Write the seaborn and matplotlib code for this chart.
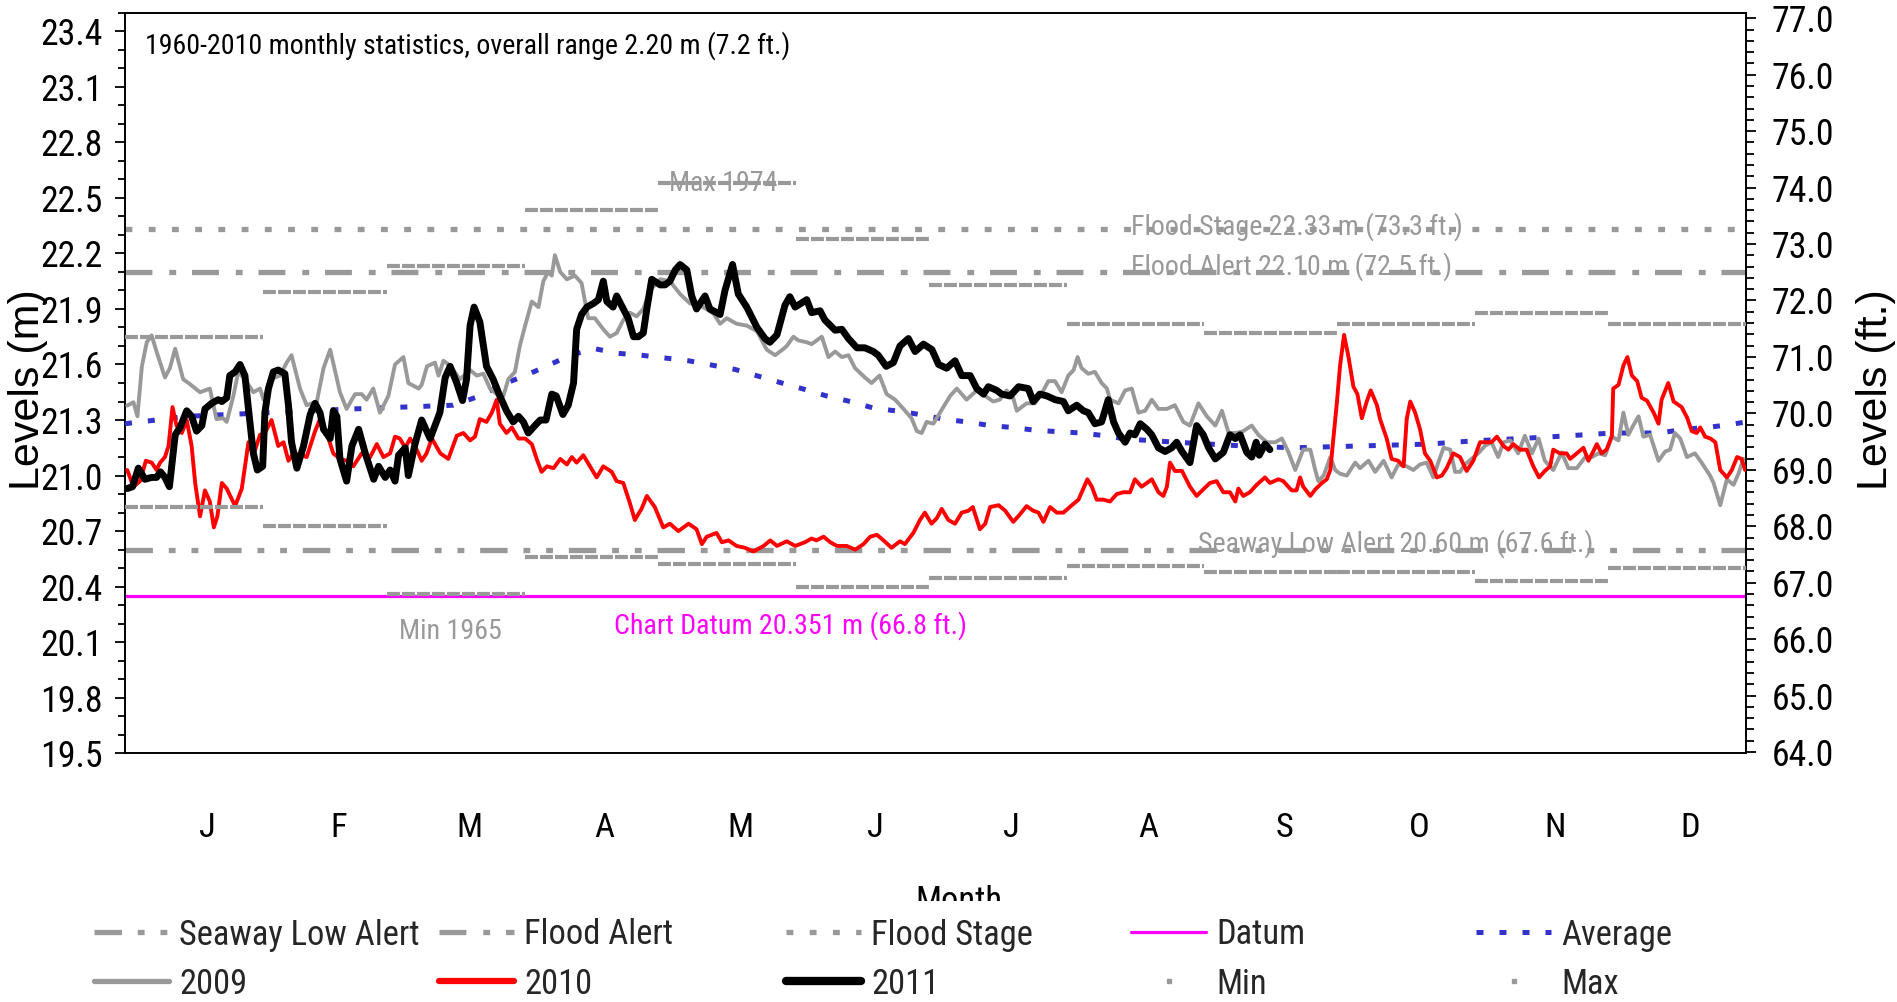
import numpy as np
import matplotlib
matplotlib.use("Agg")
import matplotlib.pyplot as plt
import seaborn as sns
from matplotlib.ticker import MultipleLocator, FormatStrFormatter
from matplotlib.lines import Line2D
from matplotlib.patches import Rectangle
from matplotlib.font_manager import FontProperties
import matplotlib.font_manager as fm

# ---------------- data ----------------
month_letters = ["J", "F", "M", "A", "M", "J", "J", "A", "S", "O", "N", "D"]
month_days = [31, 28, 31, 30, 31, 30, 31, 31, 30, 31, 30, 31]

monthly_max = [21.75, 21.99, 22.13, 22.435, 22.58, 22.28, 22.03, 21.82, 21.77, 21.82, 21.88, 21.82]
monthly_min = [20.83, 20.73, 20.36, 20.56, 20.52, 20.40, 20.445, 20.51, 20.48, 20.48, 20.43, 20.50]

flood_stage = 22.33
flood_alert = 22.10
seaway_low_alert = 20.60
chart_datum = 20.351

avg_day = [0, 13.9, 32.7, 51.4, 73.9, 79.9, 84.8, 90.1, 95.3, 100.2, 105.8, 111.1, 116.3, 121.6,
           126.9, 132.5, 137.4, 142.6, 147.9, 153.1, 158.0, 163.3, 168.5, 173.4, 179.0, 184.3,
           189.5, 194.8, 199.7, 204.9, 210.2, 215.4, 220.7, 225.6, 236.8, 251.8, 263.1, 278.1,
           293.5, 304.0, 314.1, 325.0, 335.1, 345.7, 350.9, 356.2, 361.4, 365]
avg_level = [21.28, 21.32, 21.34, 21.36, 21.38, 21.43, 21.49, 21.54, 21.595, 21.65, 21.685, 21.66,
             21.65, 21.635, 21.62, 21.595, 21.573, 21.537, 21.50, 21.465, 21.43, 21.40, 21.365,
             21.35, 21.33, 21.305, 21.29, 21.27, 21.26, 21.245, 21.237, 21.23, 21.215, 21.197,
             21.18, 21.16, 21.15, 21.16, 21.17, 21.188, 21.20, 21.215, 21.23, 21.23, 21.25,
             21.26, 21.275, 21.29]

y2009_day = [0.5, 1.9, 2.8, 3.8, 4.9, 6.0, 7.1, 9.0, 10.1, 11.3, 13.1, 14.3, 16.9, 19.1, 20.6, 22.1,
             22.9, 24.4, 25.5, 27.0, 28.9, 30.4, 31.2, 32.7, 34.9, 36.4, 37.5, 39.4, 40.9, 43.2,
             44.7, 46.2, 48.4, 49.9, 51.8, 53.3, 54.4, 55.9, 57.4, 59.3, 60.8, 62.7, 63.8, 66.1,
             66.8, 68.0, 69.8, 70.6, 71.7, 73.2, 75.4, 77.7, 79.2, 80.7, 82.2, 83.7, 85.2, 86.3,
             87.8, 88.9, 90.1, 91.6, 93.1, 94.2, 95.3, 96.1, 96.8, 98.0, 99.5, 101.3, 102.8, 104.3,
             105.8, 107.7, 109.2, 110.7, 112.2, 113.7, 115.2, 116.7, 118.2, 120.5, 122.7, 125.0,
             127.2, 129.5, 132.5, 134.0, 135.5, 137.7, 140.0, 142.3, 144.5, 146.4, 148.3, 149.0,
             150.5, 151.6, 153.5, 154.6, 156.9, 158.4, 159.9, 161.4, 162.9, 164.4, 166.6, 168.1,
             169.9, 171.5, 173.4, 175.3, 177.1, 178.3, 179.4, 180.5, 182.0, 183.5, 185.8, 187.3,
             189.5, 191.8, 193.7, 195.5, 197.0, 198.5, 200.0, 200.8, 203.0, 204.9, 206.8, 207.9,
             209.4, 210.9, 212.4, 213.6, 214.5, 215.4, 216.9, 218.4, 219.9, 221.1, 221.8, 223.7,
             225.2, 226.7, 228.2, 229.7, 231.2, 232.7, 234.6, 236.4, 238.3, 239.8, 241.7, 243.6,
             245.5, 247.0, 248.5, 250.3, 251.8, 253.7, 255.2, 257.1, 259.0, 260.5, 262.0, 263.5,
             265.3, 266.9, 268.0, 268.7, 269.9, 271.4, 272.5, 273.6, 275.1, 277.0, 278.1, 280.0,
             281.5, 283.4, 285.2, 286.7, 288.6, 290.1, 291.6, 293.1, 294.6, 295.7, 296.9, 298.4,
             299.5, 300.6, 301.7, 303.2, 304.7, 306.2, 307.7, 309.2, 310.4, 311.9, 313.7, 315.2,
             316.8, 318.3, 319.7, 321.6, 323.5, 325.0, 326.9, 328.8, 330.3, 331.8, 333.3, 334.8,
             336.3, 337.4, 338.5, 339.6, 340.8, 341.9, 343.4, 345.3, 346.8, 347.9, 349.0, 350.2,
             351.7, 353.5, 355.0, 356.9, 357.7, 359.2, 360.7, 362.2, 363.3, 364.4]
y2009_level = [21.378, 21.396, 21.32, 21.59, 21.72, 21.757, 21.67, 21.53, 21.58, 21.685, 21.52, 21.50,
               21.45, 21.47, 21.305, 21.31, 21.29, 21.43, 21.56, 21.52, 21.45, 21.47, 21.41, 21.52,
               21.54, 21.61, 21.65, 21.47, 21.38, 21.40, 21.58, 21.68, 21.45, 21.36, 21.44, 21.44,
               21.41, 21.47, 21.34, 21.43, 21.60, 21.64, 21.50, 21.47, 21.49, 21.59, 21.61, 21.54,
               21.62, 21.595, 21.52, 21.57, 21.54, 21.55, 21.47, 21.44, 21.43, 21.52, 21.56, 21.70,
               21.81, 21.94, 21.91, 22.05, 22.10, 22.08, 22.19, 22.10, 22.06, 22.08, 22.04, 21.85,
               21.85, 21.79, 21.75, 21.77, 21.84, 21.88, 21.86, 21.90, 22.00, 22.06, 22.05, 21.98,
               21.93, 21.92, 21.875, 21.82, 21.85, 21.82, 21.81, 21.78, 21.68, 21.65, 21.685, 21.70,
               21.75, 21.73, 21.72, 21.71, 21.75, 21.64, 21.67, 21.64, 21.65, 21.58, 21.53, 21.50,
               21.54, 21.44, 21.41, 21.36, 21.31, 21.24, 21.23, 21.29, 21.28, 21.34, 21.43, 21.47,
               21.41, 21.46, 21.43, 21.40, 21.41, 21.46, 21.42, 21.35, 21.39, 21.39, 21.46, 21.51,
               21.51, 21.45, 21.54, 21.57, 21.64, 21.58, 21.55, 21.56, 21.50, 21.47, 21.41, 21.39,
               21.46, 21.47, 21.34, 21.35, 21.41, 21.36, 21.36, 21.38, 21.29, 21.27, 21.39, 21.32,
               21.27, 21.35, 21.23, 21.23, 21.24, 21.27, 21.22, 21.18, 21.18, 21.20, 21.125, 21.03,
               21.14, 21.14, 21.03, 20.97, 21.00, 21.10, 21.03, 21.01, 21.00, 21.07, 21.04, 21.08,
               21.02, 21.08, 20.99, 21.06, 21.05, 21.03, 21.06, 21.07, 20.99, 21.07, 21.15, 21.14,
               21.02, 21.02, 21.06, 21.09, 21.12, 21.16, 21.18, 21.10, 21.18, 21.19, 21.12, 21.215,
               21.12, 21.20, 21.08, 21.03, 21.125, 21.04, 21.04, 21.10, 21.10, 21.12, 21.11, 21.21,
               21.19, 21.34, 21.22, 21.27, 21.32, 21.21, 21.22, 21.08, 21.13, 21.14, 21.23, 21.20,
               21.10, 21.12, 21.07, 21.00, 20.96, 20.84, 20.98, 20.95, 21.01, 21.09]

y2010_day = [0.5, 1.9, 3.4, 4.7, 6.0, 7.1, 7.9, 9.0, 9.8, 10.7, 11.6, 12.8, 13.9, 15.0, 15.8, 16.9,
             18.0, 19.1, 20.0, 20.8, 21.8, 22.9, 24.8, 26.3, 27.8, 28.9, 30.4, 31.5, 33.0, 34.5,
             35.7, 36.8, 37.9, 39.8, 40.9, 42.8, 43.9, 45.4, 46.9, 48.4, 49.9, 51.4, 53.3, 55.2,
             56.7, 58.2, 59.7, 60.8, 61.9, 63.1, 64.2, 65.7, 66.8, 67.9, 69.1, 71.0, 72.8, 74.7,
             76.2, 77.7, 78.8, 79.9, 81.4, 82.6, 83.7, 84.4, 85.9, 87.1, 88.6, 90.1, 91.6, 92.7,
             93.8, 95.0, 96.5, 98.0, 99.5, 100.6, 101.7, 103.2, 104.7, 106.2, 107.7, 109.6, 110.7,
             112.2, 113.7, 114.8, 116.3, 117.5, 119.3, 121.2, 122.7, 124.6, 126.9, 128.7, 129.9,
             131.0, 133.2, 134.4, 135.9, 137.7, 139.6, 141.5, 143.8, 145.3, 146.8, 149.0, 150.9,
             153.1, 154.6, 155.7, 157.3, 158.8, 160.3, 162.5, 164.4, 166.3, 167.8, 169.3, 170.8,
             172.6, 174.5, 175.6, 177.5, 179.0, 180.1, 181.6, 182.8, 183.9, 185.4, 186.9, 188.4,
             189.9, 190.9, 192.5, 193.7, 194.8, 196.7, 198.2, 200.0, 201.5, 203.0, 204.5, 205.7,
             206.8, 208.3, 209.8, 211.3, 213.2, 214.7, 215.8, 216.7, 217.7, 218.8, 220.3, 221.8,
             223.3, 224.8, 226.3, 227.4, 228.9, 230.1, 231.2, 232.7, 233.8, 234.6, 235.3, 236.4,
             238.0, 239.8, 241.3, 243.2, 244.3, 245.8, 247.3, 248.8, 250.0, 250.7, 251.8, 253.3,
             254.8, 256.7, 257.8, 259.7, 260.8, 262.7, 263.8, 264.6, 265.3, 266.9, 268.0, 269.5,
             270.6, 271.4, 272.1, 272.9, 273.6, 274.5, 275.5, 276.6, 277.5, 278.5, 279.6, 280.5,
             281.9, 282.6, 284.1, 285.2, 286.7, 287.9, 288.6, 289.4, 290.5, 291.6, 292.7, 293.9,
             295.4, 296.5, 297.6, 299.1, 300.6, 302.1, 303.6, 305.1, 306.6, 307.7, 308.9, 310.4,
             311.5, 312.6, 314.1, 315.6, 317.1, 318.4, 319.7, 320.9, 321.6, 323.1, 324.6, 325.4,
             326.9, 328.4, 329.5, 330.6, 331.4, 332.5, 333.6, 334.8, 335.1, 336.3, 337.4, 338.3,
             339.3, 340.5, 341.5, 342.7, 344.2, 345.3, 346.0, 347.5, 348.7, 350.5, 351.7, 352.8,
             353.9, 354.7, 355.8, 357.0, 358.1, 359.2, 360.7, 361.8, 363.0, 364.0, 364.8]
y2010_level = [21.03, 20.94, 20.97, 21.08, 21.07, 21.03, 21.07, 21.10, 21.16, 21.37, 21.27, 21.23,
               21.30, 21.16, 20.96, 20.78, 20.92, 20.86, 20.72, 20.78, 20.96, 20.93, 20.835, 20.93,
               21.18, 21.11, 21.22, 21.23, 21.30, 21.16, 21.18, 21.08, 21.12, 21.11, 21.10, 21.24,
               21.305, 21.23, 21.12, 21.09, 21.08, 21.05, 21.12, 21.10, 21.17, 21.10, 21.12, 21.21,
               21.20, 21.15, 21.20, 21.14, 21.08, 21.12, 21.20, 21.12, 21.09, 21.215, 21.23, 21.19,
               21.21, 21.305, 21.29, 21.34, 21.41, 21.28, 21.23, 21.26, 21.20, 21.20, 21.17, 21.09,
               21.02, 21.05, 21.04, 21.09, 21.06, 21.10, 21.07, 21.11, 21.05, 20.99, 21.05, 21.02,
               20.97, 20.96, 20.85, 20.76, 20.82, 20.89, 20.83, 20.72, 20.74, 20.70, 20.74, 20.71,
               20.63, 20.67, 20.69, 20.64, 20.65, 20.62, 20.61, 20.59, 20.62, 20.65, 20.62, 20.645,
               20.62, 20.64, 20.66, 20.65, 20.67, 20.64, 20.62, 20.62, 20.60, 20.63, 20.67, 20.68,
               20.65, 20.61, 20.645, 20.63, 20.69, 20.76, 20.80, 20.74, 20.77, 20.82, 20.76, 20.74,
               20.80, 20.81, 20.83, 20.71, 20.74, 20.83, 20.84, 20.81, 20.75, 20.79, 20.835, 20.81,
               20.80, 20.75, 20.83, 20.80, 20.80, 20.84, 20.87, 20.93, 20.98, 20.94, 20.87, 20.87,
               20.86, 20.90, 20.91, 20.91, 20.98, 20.94, 20.96, 20.98, 20.91, 20.89, 20.94, 21.07,
               21.025, 21.025, 20.94, 20.89, 20.935, 20.96, 20.97, 20.91, 20.91, 20.86, 20.93, 20.89,
               20.91, 20.95, 20.99, 20.96, 20.98, 20.97, 20.92, 20.92, 20.99, 20.94, 20.89, 20.925,
               20.96, 20.98, 21.03, 21.20, 21.40, 21.595, 21.76, 21.64, 21.48, 21.44, 21.31, 21.40,
               21.46, 21.38, 21.305, 21.20, 21.09, 21.08, 21.05, 21.305, 21.40, 21.34, 21.25, 21.12,
               21.08, 20.99, 21.00, 21.04, 21.12, 21.10, 21.025, 21.08, 21.18, 21.18, 21.18, 21.21,
               21.16, 21.14, 21.17, 21.14, 21.14, 21.05, 20.99, 21.025, 21.05, 21.14, 21.12, 21.12,
               21.09, 21.12, 21.15, 21.08, 21.13, 21.17, 21.12, 21.14, 21.215, 21.47, 21.49, 21.595,
               21.64, 21.54, 21.51, 21.42, 21.405, 21.34, 21.28, 21.41, 21.50, 21.40, 21.37, 21.315,
               21.24, 21.23, 21.26, 21.21, 21.20, 21.18, 21.03, 20.99, 21.03, 21.10, 21.09, 21.03]

y2011_day = [0.5, 1.7, 3.0, 4.5, 6.0, 7.1, 8.0, 9.0, 10.0, 11.3, 12.4, 13.9, 15.0, 16.1, 17.3, 18.0,
             19.5, 21.0, 21.8, 22.9, 23.6, 24.8, 25.9, 27.0, 27.8, 28.9, 29.8, 31.0, 31.5, 32.3,
             33.4, 34.5, 36.0, 36.8, 37.5, 38.7, 40.2, 41.7, 42.8, 43.9, 44.7, 46.2, 46.9, 47.7,
             48.4, 49.9, 51.1, 52.6, 54.1, 56.0, 57.1, 58.6, 59.7, 60.8, 61.6, 63.1, 63.8, 65.3,
             66.8, 68.7, 70.9, 72.1, 73.2, 74.7, 76.0, 76.9, 77.7, 78.6, 79.9, 81.4, 82.9, 84.4,
             85.9, 87.4, 88.6, 89.7, 90.8, 92.3, 93.5, 94.8, 96.1, 97.1, 98.6, 99.8, 101.0, 101.7,
             102.8, 104.0, 105.5, 106.6, 107.7, 108.5, 109.9, 110.7, 112.2, 113.3, 114.5, 115.6,
             116.7, 117.5, 118.6, 120.5, 121.6, 122.7, 123.9, 125.0, 126.5, 127.6, 128.7, 130.6,
             131.7, 134.0, 135.1, 136.8, 138.1, 140.0, 142.3, 144.1, 145.2, 146.8, 148.6, 149.7,
             150.9, 153.5, 154.6, 156.5, 157.6, 159.9, 161.4, 162.9, 164.8, 166.6, 168.5, 169.6,
             171.4, 173.0, 174.5, 176.4, 177.9, 179.8, 181.7, 183.2, 185.0, 186.9, 188.4, 190.3,
             191.8, 193.3, 194.4, 196.3, 197.4, 199.3, 201.2, 203.4, 204.5, 206.0, 207.6, 209.4,
             211.3, 212.4, 214.3, 215.8, 216.9, 218.4, 219.9, 221.4, 222.6, 223.7, 225.2, 226.3,
             227.4, 228.6, 230.1, 231.2, 232.7, 234.2, 235.7, 236.8, 238.0, 239.8, 241.3, 242.8,
             244.0, 245.5, 247.3, 248.8, 250.0, 251.1, 252.6, 253.7, 254.7, 255.4, 256.7, 257.8]
y2011_level = [20.93, 20.94, 21.04, 20.98, 20.99, 20.99, 21.02, 20.99, 20.94, 21.22, 21.26, 21.35,
               21.32, 21.24, 21.27, 21.36, 21.39, 21.41, 21.40, 21.42, 21.54, 21.56, 21.60, 21.54,
               21.36, 21.12, 21.03, 21.05, 21.34, 21.47, 21.56, 21.57, 21.55, 21.38, 21.18, 21.04,
               21.16, 21.33, 21.39, 21.34, 21.25, 21.20, 21.35, 21.32, 21.09, 20.97, 21.16, 21.25,
               21.12, 20.98, 21.05, 20.99, 21.03, 20.97, 21.11, 21.15, 21.00, 21.17, 21.30, 21.20,
               21.34, 21.53, 21.59, 21.50, 21.405, 21.52, 21.81, 21.91, 21.83, 21.59, 21.52, 21.43,
               21.35, 21.29, 21.32, 21.29, 21.23, 21.27, 21.30, 21.30, 21.44, 21.43, 21.33, 21.38,
               21.50, 21.79, 21.87, 21.91, 21.93, 21.95, 22.05, 21.94, 21.91, 21.97, 21.90, 21.85,
               21.75, 21.75, 21.77, 21.90, 22.06, 22.03, 22.03, 22.05, 22.11, 22.14, 22.11, 21.97,
               21.90, 21.97, 21.90, 21.87, 22.00, 22.14, 21.98, 21.91, 21.80, 21.74, 21.72, 21.76,
               21.92, 21.966, 21.91, 21.95, 21.88, 21.89, 21.84, 21.785, 21.79, 21.74, 21.69, 21.69,
               21.67, 21.65, 21.59, 21.61, 21.70, 21.74, 21.67, 21.71, 21.68, 21.60, 21.58, 21.62,
               21.54, 21.54, 21.47, 21.44, 21.48, 21.46, 21.44, 21.43, 21.48, 21.47, 21.40, 21.44,
               21.43, 21.41, 21.40, 21.35, 21.38, 21.35, 21.34, 21.28, 21.29, 21.41, 21.29, 21.23,
               21.18, 21.23, 21.22, 21.28, 21.25, 21.22, 21.15, 21.13, 21.15, 21.18, 21.13, 21.07,
               21.27, 21.22, 21.15, 21.09, 21.125, 21.22, 21.20, 21.22, 21.125, 21.10, 21.18, 21.11,
               21.17, 21.14]

title_text = "1960-2010 monthly statistics, overall range 2.20 m (7.2 ft.)"
M_TO_FT = 3.28084

# ---------------- fonts ----------------
sns.set_theme(style="ticks")
entries = fm.fontManager.ttflist
names = {f.name for f in entries}
REG = "Liberation Sans" if "Liberation Sans" in names else "DejaVu Sans"
plt.rcParams["font.family"] = [REG, "DejaVu Sans"]


def _normal_weight(f):
    return str(f.weight).lower() in ("400", "normal", "regular", "book", "roman") and f.style == "normal"


def find_narrow():
    prefs = ["Liberation Sans Narrow", "Arial Narrow", "Nimbus Sans Narrow", "Roboto Condensed",
             "Noto Sans Condensed", "Open Sans Condensed", "DejaVu Sans Condensed",
             "Noto Sans SemiCondensed"]
    for p in prefs:
        for f in entries:
            if f.name == p and _normal_weight(f):
                return f.fname
    for f in entries:
        n = f.name
        if ("Narrow" in n or ("Condensed" in n and "Extra" not in n and "Ultra" not in n)) \
                and _normal_weight(f):
            return f.fname
    for f in entries:
        if str(f.stretch) in ("condensed", "semi-condensed") and _normal_weight(f):
            return f.fname
    return None


_nf = find_narrow()
if _nf:
    def NFP(size):
        return FontProperties(fname=_nf, size=size)
else:
    def NFP(size):
        return FontProperties(family=REG, size=size)

W, H = 1897, 1002
fig = plt.figure(figsize=(W / 100, H / 100), dpi=100)
fig.patch.set_facecolor("white")
_r = fig.canvas.get_renderer()


def fit_size(s, target_px, base=20.0):
    t = fig.text(0, 0, s, fontproperties=NFP(base))
    w = t.get_window_extent(_r).width
    t.remove()
    return base * target_px / w


TITLE_FS = fit_size(title_text, 647)
ANN_FS = fit_size("Flood Stage 22.33 m (73.3 ft.)", 333)
LEG_FS = fit_size("Seaway Low Alert", 240)
TICK_FS = 0.5 * (fit_size("23.4", 60) + 27)
MON_FS = TICK_FS - 1

GRAY = "#999999"
RED = "#FF0000"
BLUE = "#3333CC"
MAGENTA = "#FF00FF"

FA_DASH = (0, (5.1, 3.2, 1.3, 3.0))
SLA_DASH = (0, (5.2, 3.0, 1.3, 3.0, 1.3, 3.0))
FS_DASH = (0, (1.3, 3.1))
AVG_DASH = (0, (1.4, 3.2))
MM_DASH = (0, (3.1, 0.5))

ax = fig.add_axes([125 / W, 1 - 753.3 / H, (1746 - 125) / W, (753.3 - 12.7) / H])

# reference lines
ax.axhline(seaway_low_alert, color=GRAY, lw=3.8, linestyle=SLA_DASH, zorder=2)
ax.axhline(flood_alert, color=GRAY, lw=3.8, linestyle=FA_DASH, zorder=2)
ax.axhline(flood_stage, color=GRAY, lw=3.8, linestyle=FS_DASH, zorder=2)
ax.axhline(chart_datum, color=MAGENTA, lw=2.3, zorder=2)

# series
sns.lineplot(x=avg_day, y=avg_level, ax=ax, color=BLUE, lw=3.6, linestyle=AVG_DASH,
             legend=False, sort=False, zorder=3)
sns.lineplot(x=y2009_day, y=y2009_level, ax=ax, color=GRAY, lw=2.8, legend=False,
             sort=False, zorder=4)
sns.lineplot(x=y2010_day, y=y2010_level, ax=ax, color=RED, lw=2.8, legend=False,
             sort=False, zorder=5)
sns.lineplot(x=y2011_day, y=y2011_level, ax=ax, color="black", lw=5.0, legend=False,
             sort=False, zorder=6)

# monthly min / max
ends = np.cumsum(month_days)
starts = ends - np.array(month_days)
ax.hlines(monthly_max, starts, ends, colors=GRAY, lw=3.0, linestyles=[MM_DASH], zorder=7)
ax.hlines(monthly_min, starts, ends, colors=GRAY, lw=3.0, linestyles=[MM_DASH], zorder=7)

# annotations
ax.text(134.8, monthly_max[4], "Max 1974", color=GRAY, fontproperties=NFP(ANN_FS),
        ha="center", va="center", zorder=1)
ax.text(73.2, 20.157, "Min 1965", color=GRAY, fontproperties=NFP(ANN_FS),
        ha="center", va="center", zorder=1)
ax.text(226.6, flood_stage + 0.015, "Flood Stage 22.33 m (73.3 ft.)", color=GRAY,
        fontproperties=NFP(ANN_FS), ha="left", va="center", zorder=1)
ax.text(226.6, flood_alert + 0.03, "Flood Alert 22.10 m (72.5 ft.)", color=GRAY,
        fontproperties=NFP(ANN_FS), ha="left", va="center", zorder=1)
ax.text(241.5, seaway_low_alert + 0.033, "Seaway Low Alert 20.60 m (67.6 ft.)", color=GRAY,
        fontproperties=NFP(ANN_FS), ha="left", va="center", zorder=1)
ax.text(110.2, 20.19, "Chart Datum 20.351 m (66.8 ft.)", color=MAGENTA,
        fontproperties=NFP(ANN_FS), ha="left", va="center", zorder=1)
ax.text(0.0123, 0.955, title_text, transform=ax.transAxes, color="black",
        fontproperties=NFP(TITLE_FS), ha="left", va="center")

# axes
ax.set_xlim(0, 365)
ax.set_ylim(19.5, 23.5)
ax.yaxis.set_major_locator(MultipleLocator(0.3))
ax.yaxis.set_minor_locator(MultipleLocator(0.1))
ax.yaxis.set_major_formatter(FormatStrFormatter("%.1f"))
ax.set_xticks(starts + np.array(month_days) / 2 + 3)
ax.set_xticklabels(month_letters)
ax.tick_params(axis="x", length=0, pad=42, colors="black")
ax.tick_params(axis="y", which="major", left=True, length=7.2, width=1.3, pad=9, colors="black")
ax.tick_params(axis="y", which="minor", left=True, length=4.8, width=1.3, colors="black")
for lab in ax.get_xticklabels():
    lab.set_fontproperties(NFP(MON_FS))
for lab in ax.get_yticklabels():
    lab.set_fontproperties(NFP(TICK_FS))
for s in ax.spines.values():
    s.set_color("black")
    s.set_linewidth(1.4)
    s.set_visible(True)

ax.set_xlabel("Month", fontproperties=NFP(LEG_FS), color="black")
ax.xaxis.set_label_coords(0.5145, -0.1775)
ax.xaxis.label.set_va("top")
ax.set_ylabel("Levels (m)", fontsize=31, family=REG, color="black")
ax.yaxis.set_label_coords(-0.0475, 0.4905)

ax2 = ax.twinx()
ax2.set_ylim(19.5 * M_TO_FT, 23.5 * M_TO_FT)
ax2.yaxis.set_major_locator(MultipleLocator(1.0))
ax2.yaxis.set_minor_locator(MultipleLocator(0.2))
ax2.yaxis.set_major_formatter(FormatStrFormatter("%.1f"))
ax2.tick_params(axis="y", which="major", right=True, length=7.2, width=1.3, pad=11, colors="black")
ax2.tick_params(axis="y", which="minor", right=True, length=5.5, width=1.3, colors="black")
for lab in ax2.get_yticklabels():
    lab.set_fontproperties(NFP(TICK_FS))
ax2.set_ylabel("Levels (ft.)", fontsize=31, family=REG, color="black")
ax2.yaxis.set_label_coords(1.068, 0.4905)
for s in ax2.spines.values():
    s.set_visible(False)

# white band under legend (hides lower half of the axis title like the original)
fig.patches.append(Rectangle((0, 0), 1, 1 - 901 / H, transform=fig.transFigure,
                             facecolor="white", edgecolor="none", zorder=1))

# legend: 5 columns x 2 rows, each entry placed on its own
entries_leg = [
    (Line2D([], [], color=GRAY, lw=3.8, linestyle=SLA_DASH), "Seaway Low Alert", 0, 0),
    (Line2D([], [], color=GRAY, lw=3.8, linestyle=FA_DASH), "Flood Alert", 1, 0),
    (Line2D([], [], color=GRAY, lw=3.8, linestyle=FS_DASH), "Flood Stage", 2, 0),
    (Line2D([], [], color=MAGENTA, lw=2.3), "Datum", 3, 0),
    (Line2D([], [], color=BLUE, lw=3.6, linestyle=AVG_DASH), "Average", 4, 0),
    (Line2D([], [], color=GRAY, lw=3.8), "2009", 0, 1),
    (Line2D([], [], color=RED, lw=4.5), "2010", 1, 1),
    (Line2D([], [], color="black", lw=6.0), "2011", 2, 1),
    (Line2D([], [], color=GRAY, ls="none", marker="s", ms=3.5), "Min", 3, 1),
    (Line2D([], [], color=GRAY, ls="none", marker="s", ms=3.5), "Max", 4, 1),
]
col_x = [94, 439, 786, 1131, 1476]
row_y = [935, 984]
fs_px = LEG_FS * 100 / 72
for h, t, c, r in entries_leg:
    leg = fig.legend(handles=[h], labels=[t], loc="center left",
                     bbox_to_anchor=(col_x[c] / W, 1 - row_y[r] / H), prop=NFP(LEG_FS),
                     frameon=False, borderpad=0, borderaxespad=0, handlelength=75 / fs_px,
                     handletextpad=10 / fs_px)
    leg.set_zorder(5)

fig.savefig("out.png", dpi=100, facecolor="white")
